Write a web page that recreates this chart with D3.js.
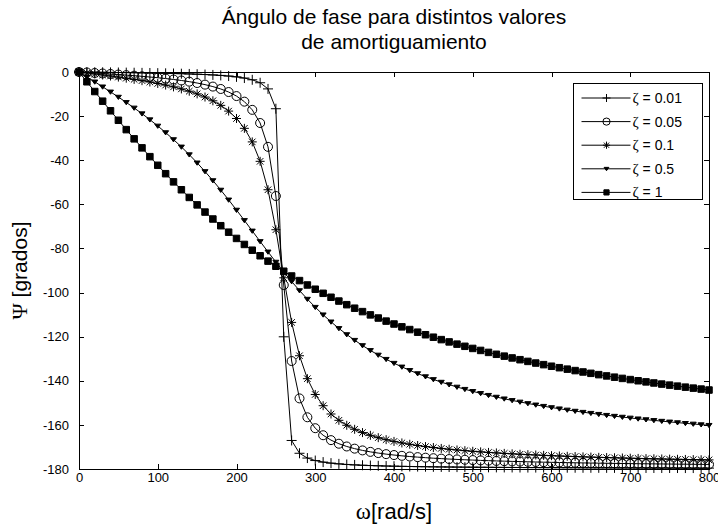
<!DOCTYPE html>
<html>
<head>
<meta charset="utf-8">
<script src="https://cdn.jsdelivr.net/npm/d3@7"></script>
<style>
  html, body { margin: 0; padding: 0; background: #fff; }
  svg { display: block; }
  text { font-family: "Liberation Sans", Arial, sans-serif; fill: #000; }
</style>
</head>
<body>
<svg id="chart" width="718" height="531"></svg>
<script>
// Frequency samples [rad/s]
const omega = [0,10,20,30,40,50,60,70,80,90,100,110,120,130,140,150,160,170,180,190,
  200,210,220,230,240,250,260,270,280,290,300,310,320,330,340,350,360,370,380,390,
  400,410,420,430,440,450,460,470,480,490,500,510,520,530,540,550,560,570,580,590,
  600,610,620,630,640,650,660,670,680,690,700,710,720,730,740,750,760,770,780,790,800];

// Phase angle [degrees] for each damping ratio
const psi001 = [0,-0.04,-0.09,-0.13,-0.18,-0.23,-0.28,-0.33,-0.39,-0.45,-0.52,-0.60,-0.68,-0.77,-0.88,-1.00,-1.15,-1.33,-1.55,-1.83,
  -2.21,-2.74,-3.53,-4.88,-7.66,-16.65,-120.06,-167.07,-172.87,-175.04,-176.17,-176.87,-177.34,-177.68,-177.94,-178.14,-178.30,-178.44,-178.55,-178.65,
  -178.73,-178.80,-178.86,-178.92,-178.97,-179.02,-179.06,-179.10,-179.13,-179.16,-179.19,-179.22,-179.24,-179.27,-179.29,-179.31,-179.33,-179.35,-179.36,-179.38,
  -179.39,-179.41,-179.42,-179.43,-179.45,-179.46,-179.47,-179.48,-179.49,-179.50,-179.51,-179.52,-179.53,-179.54,-179.54,-179.55,-179.56,-179.57,-179.57,-179.58,-179.59];

const psi005 = [0,-0.22,-0.45,-0.67,-0.91,-1.15,-1.41,-1.67,-1.96,-2.27,-2.60,-2.97,-3.39,-3.85,-4.38,-5.00,-5.73,-6.61,-7.70,-9.08,
  -10.91,-13.44,-17.16,-23.13,-33.93,-56.23,-96.60,-131.05,-147.99,-156.55,-161.50,-164.69,-166.91,-168.54,-169.79,-170.77,-171.57,-172.23,-172.78,-173.26,
  -173.67,-174.03,-174.34,-174.62,-174.87,-175.10,-175.30,-175.49,-175.66,-175.82,-175.96,-176.10,-176.22,-176.34,-176.45,-176.55,-176.64,-176.73,-176.82,-176.90,
  -176.97,-177.04,-177.11,-177.18,-177.24,-177.30,-177.35,-177.40,-177.46,-177.50,-177.55,-177.60,-177.64,-177.68,-177.72,-177.76,-177.80,-177.83,-177.87,-177.90,-177.93];

const psi01 = [0,-0.44,-0.89,-1.35,-1.82,-2.30,-2.81,-3.34,-3.92,-4.53,-5.20,-5.93,-6.75,-7.67,-8.71,-9.92,-11.35,-13.05,-15.13,-17.73,
  -21.08,-25.54,-31.69,-40.50,-53.38,-71.51,-93.31,-113.53,-128.65,-139.05,-146.21,-151.30,-155.06,-157.93,-160.18,-162.00,-163.49,-164.73,-165.79,-166.70,
  -167.49,-168.18,-168.79,-169.34,-169.83,-170.27,-170.67,-171.04,-171.37,-171.68,-171.97,-172.23,-172.48,-172.71,-172.92,-173.12,-173.31,-173.49,-173.65,-173.81,
  -173.96,-174.10,-174.24,-174.36,-174.49,-174.60,-174.71,-174.82,-174.92,-175.02,-175.11,-175.20,-175.29,-175.37,-175.45,-175.53,-175.60,-175.67,-175.74,-175.81,-175.87];

const psi05 = [0,-2.22,-4.45,-6.71,-9.01,-11.36,-13.78,-16.29,-18.89,-21.61,-24.46,-27.46,-30.62,-33.95,-37.47,-41.18,-45.10,-49.21,-53.51,-57.97,
  -62.58,-67.29,-72.05,-76.82,-81.55,-86.17,-90.66,-94.98,-99.09,-102.98,-106.64,-110.07,-113.27,-116.26,-119.03,-121.61,-124.00,-126.23,-128.30,-130.23,
  -132.02,-133.70,-135.27,-136.73,-138.10,-139.39,-140.60,-141.74,-142.82,-143.83,-144.79,-145.70,-146.56,-147.38,-148.16,-148.90,-149.60,-150.28,-150.92,-151.53,
  -152.12,-152.68,-153.22,-153.74,-154.24,-154.71,-155.17,-155.62,-156.04,-156.45,-156.85,-157.23,-157.60,-157.96,-158.30,-158.64,-158.96,-159.28,-159.58,-159.88,-160.16];

const psi1 = [0,-4.43,-8.85,-13.24,-17.59,-21.89,-26.13,-30.30,-34.39,-38.39,-42.30,-46.11,-49.81,-53.39,-56.87,-60.25,-63.50,-66.65,-69.69,-72.63,
  -75.46,-78.19,-80.80,-83.32,-85.75,-88.08,-90.33,-92.49,-94.57,-96.57,-98.49,-100.34,-102.13,-103.85,-105.50,-107.10,-108.64,-110.12,-111.55,-112.94,
  -114.26,-115.54,-116.78,-117.97,-119.13,-120.25,-121.34,-122.38,-123.39,-124.37,-125.33,-126.24,-127.13,-127.99,-128.83,-129.65,-130.44,-131.21,-131.96,-132.69,
  -133.40,-134.07,-134.73,-135.38,-136.01,-136.62,-137.22,-137.80,-138.37,-138.92,-139.46,-139.99,-140.50,-141.00,-141.49,-141.97,-142.43,-142.89,-143.33,-143.76,-144.19];

const seriesValueLabels = ["0.01", "0.05", "0.1", "0.5", "1"];
const seriesMarkers = ["plus", "circle", "star", "tridown", "square"];
const seriesValues = [psi001, psi005, psi01, psi05, psi1];

const xTicks = [0,100,200,300,400,500,600,700,800];
const yTicks = [0,-20,-40,-60,-80,-100,-120,-140,-160,-180];

const titleLines = ["Ángulo de fase para distintos valores", "de amortiguamiento"];

// ---- drawing ----
const svg = d3.select("#chart");
const W = 718, H = 531;
const plot = { left: 79, right: 709, top: 72, bottom: 469 };
const SERIF = "'Liberation Serif', 'DejaVu Serif', serif";

svg.append("rect").attr("width", W).attr("height", H).attr("fill", "#fff");

const x = d3.scaleLinear().domain([0, 800]).range([plot.left, plot.right]);
const y = d3.scaleLinear().domain([-180, 0]).range([plot.bottom, plot.top]);

// marker outlines, centred on the origin
function markerPath(type, s) {
  const h = s / 2;
  switch (type) {
    case "plus":
      return `M${-h},0H${h}M0,${-h}V${h}`;
    case "circle":
      return `M${h},0A${h},${h} 0 1,1 ${-h},0A${h},${h} 0 1,1 ${h},0Z`;
    case "star": {
      const d = h * 0.72;
      return `M${-h},0H${h}M0,${-h}V${h}M${-d},${-d}L${d},${d}M${-d},${d}L${d},${-d}`;
    }
    case "tridown":
      return `M${-h},${-h * 0.6}L${h},${-h * 0.6}L0,${h * 0.8}Z`;
    case "square":
      return `M${-h},${-h}H${h}V${h}H${-h}Z`;
  }
}
const markerSize = { plus: 10, circle: 9, star: 9, tridown: 6, square: 6.5 };
const markerFilled = { plus: false, circle: false, star: false, tridown: true, square: true };

function drawMarker(g, type, s) {
  g.append("path")
    .attr("d", markerPath(type, s))
    .attr("fill", markerFilled[type] ? "#000" : "none")
    .attr("stroke", "#000")
    .attr("stroke-width", 1);
}

// axes frame with inward ticks on every side
const axesG = svg.append("g").attr("shape-rendering", "crispEdges");
const tick = 5;

const bottomAxis = d3.axisBottom(x).tickValues(xTicks).tickSizeInner(-tick).tickSizeOuter(0)
  .tickPadding(4).tickFormat(d => String(d));
const topAxis = d3.axisTop(x).tickValues(xTicks).tickSizeInner(-tick).tickSizeOuter(0).tickFormat("");
const leftAxis = d3.axisLeft(y).tickValues(yTicks).tickSizeInner(-tick).tickSizeOuter(0)
  .tickPadding(10).tickFormat(d => String(d));
const rightAxis = d3.axisRight(y).tickValues(yTicks).tickSizeInner(-tick).tickSizeOuter(0).tickFormat("");

function styleAxis(g) {
  g.select(".domain").remove();
  g.selectAll("line").attr("stroke", "#000");
  g.selectAll("text").attr("font-size", 13).attr("fill", "#000")
    .attr("font-family", "'Liberation Sans', Arial, sans-serif");
}
axesG.append("g").attr("transform", `translate(0,${plot.bottom})`).call(bottomAxis).call(styleAxis);
axesG.append("g").attr("transform", `translate(0,${plot.top})`).call(topAxis).call(styleAxis);
axesG.append("g").attr("transform", `translate(${plot.left},0)`).call(leftAxis).call(styleAxis);
axesG.append("g").attr("transform", `translate(${plot.right},0)`).call(rightAxis).call(styleAxis);

axesG.append("rect")
  .attr("x", plot.left + 0.5).attr("y", plot.top + 0.5)
  .attr("width", plot.right - plot.left).attr("height", plot.bottom - plot.top)
  .attr("fill", "none").attr("stroke", "#000").attr("stroke-width", 1);

// curves
const line = d3.line().x(d => x(d[0])).y(d => y(d[1]));
const seriesG = svg.append("g");
seriesValues.forEach((vals, i) => {
  const pts = omega.map((w, k) => [w, vals[k]]);
  seriesG.append("path").datum(pts)
    .attr("d", line).attr("fill", "none").attr("stroke", "#000").attr("stroke-width", 1);
  const type = seriesMarkers[i];
  pts.forEach(p => {
    const g = seriesG.append("g").attr("transform", `translate(${x(p[0])},${y(p[1])})`);
    drawMarker(g, type, markerSize[type]);
  });
});

// legend
const leg = { x: 573.5, y: 83.5, w: 129, h: 116, row: 23.6 };
const legG = svg.append("g");
legG.append("rect").attr("x", leg.x).attr("y", leg.y).attr("width", leg.w).attr("height", leg.h)
  .attr("fill", "#fff").attr("stroke", "#000").attr("stroke-width", 1);
seriesValueLabels.forEach((lab, i) => {
  const cy = leg.y + 14.5 + i * leg.row;
  legG.append("line").attr("x1", leg.x + 8).attr("x2", leg.x + 57).attr("y1", cy).attr("y2", cy)
    .attr("stroke", "#000").attr("stroke-width", 1);
  const type = seriesMarkers[i];
  const g = legG.append("g").attr("transform", `translate(${leg.x + 33},${cy})`);
  drawMarker(g, type, markerSize[type] * 0.8);
  const t = legG.append("text").attr("x", leg.x + 59).attr("y", cy).attr("dy", "0.36em")
    .attr("font-size", 14);
  t.append("tspan").attr("font-family", SERIF).attr("font-size", 15).text("ζ");
  t.append("tspan").text(" = " + lab);
});

// titles
svg.append("g").selectAll("text").data(titleLines).join("text")
  .attr("x", 394).attr("y", (d, i) => 24 + i * 25)
  .attr("text-anchor", "middle").attr("font-size", 21).text(d => d);

const xt = svg.append("text").attr("x", 394).attr("y", 519).attr("text-anchor", "middle")
  .attr("font-size", 22);
xt.append("tspan").attr("font-family", SERIF).attr("font-size", 23).text("ω");
xt.append("tspan").text("[rad/s]");

const yt = svg.append("text").attr("transform", `translate(27,${(plot.top + plot.bottom) / 2}) rotate(-90)`)
  .attr("text-anchor", "middle").attr("font-size", 21);
yt.append("tspan").attr("font-family", SERIF).attr("font-size", 22).text("Ψ");
yt.append("tspan").text(" [grados]");
</script>
</body>
</html>
